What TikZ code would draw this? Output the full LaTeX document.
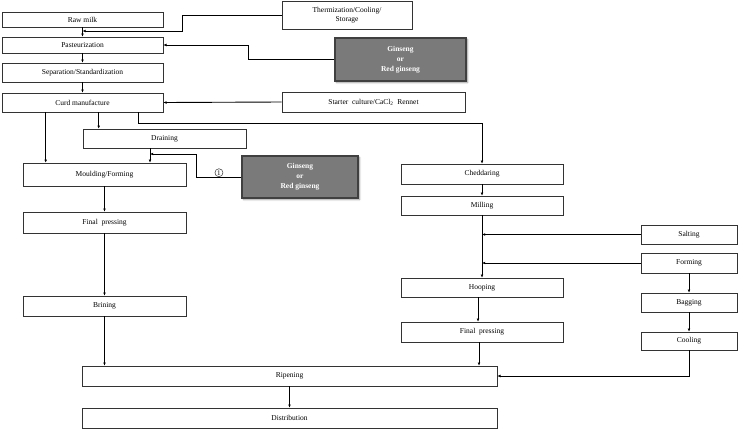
\documentclass[tikz,border=0pt]{standalone}
\usepackage{fontspec}
\setmainfont{Liberation Serif}
\usetikzlibrary{arrows.meta,shadows.blur}

\tikzset{
  stepbox/.style={draw=black!80, line width=0.6pt, rectangle, inner sep=0pt, font=\fontsize{7.5}{9}\selectfont, align=center},
  addbox/.style={draw=black!75, line width=1.1pt, fill={rgb,255:red,122;green,122;blue,122}, inner sep=0pt,
    text=white, font=\fontsize{7.5}{10}\selectfont\bfseries, align=center,
    blur shadow={shadow xshift=1.5pt, shadow yshift=-1.5pt, shadow blur steps=5}},
  flow/.style={line width=0.9pt, -{Latex[length=3.2pt,width=2.8pt]}},
}

\begin{document}
\begin{tikzpicture}[x=1pt, y=-1pt]
  \useasboundingbox (0,0) rectangle (738,429);

  % Main line
  \node[stepbox, minimum width=161pt, minimum height=15pt] (raw)     at (82.5,19.5)  {Raw milk};
  \node[stepbox, minimum width=161pt, minimum height=16pt] (past)    at (82.5,45)    {Pasteurization};
  \node[stepbox, minimum width=161pt, minimum height=19pt] (sep)     at (82.5,72.5)  {Separation/Standardization};
  \node[stepbox, minimum width=161pt, minimum height=19pt] (curd)    at (82.5,102.5) {Curd manufacture};
  \node[stepbox, minimum width=163pt, minimum height=19pt] (drain)   at (164.5,138.5) {Draining};
  \node[stepbox, minimum width=163pt, minimum height=23pt] (mould)   at (104.5,174.5) {Moulding/Forming};
  \node[stepbox, minimum width=163pt, minimum height=21pt] (pressL)  at (104.5,222.5) {Final\ \ pressing};
  \node[stepbox, minimum width=163pt, minimum height=20pt] (brine)   at (104.5,306)   {Brining};

  % Cheddar line
  \node[stepbox, minimum width=162pt, minimum height=20pt] (ched)    at (482,174)   {Cheddaring};
  \node[stepbox, minimum width=162pt, minimum height=19pt] (mill)    at (482,205.5) {Milling};
  \node[stepbox, minimum width=162pt, minimum height=19pt] (hoop)    at (482,287.5) {Hooping};
  \node[stepbox, minimum width=162pt, minimum height=20pt] (pressR)  at (482,332)   {Final\ \ pressing};
  \node[stepbox, minimum width=96pt,  minimum height=19pt] (salt)    at (689,234.5) {Salting};
  \node[stepbox, minimum width=96pt,  minimum height=20pt] (form)    at (689,263)   {Forming};
  \node[stepbox, minimum width=96pt,  minimum height=19pt] (bag)     at (689,302.5) {Bagging};
  \node[stepbox, minimum width=96pt,  minimum height=18pt] (cool)    at (689,341)   {Cooling};

  % Common end
  \node[stepbox, minimum width=415pt, minimum height=20pt] (ripen)   at (289.5,376) {Ripening};
  \node[stepbox, minimum width=415pt, minimum height=20pt] (dist)    at (289.5,418) {Distribution};

  % Inputs
  \node[stepbox, minimum width=130pt, minimum height=28pt] (therm)   at (347,15)    {Thermization/Cooling/\\Storage};
  \node[stepbox, minimum width=183pt, minimum height=20pt] (starter) at (373.5,102) {Starter\ \ culture/CaCl\textsubscript{2}\ \ Rennet};
  \node[addbox, minimum width=131pt, minimum height=43pt] (gin1)     at (400.5,59.5) {Ginseng\\or\\Red ginseng};
  \node[addbox, minimum width=116pt, minimum height=42pt] (gin2)     at (300,177)    {Ginseng\\or\\Red ginseng};

  % Junctions
  \coordinate (j1) at (82.5,31);
  \coordinate (j2) at (150,154);

  % Connections
  \draw[flow] (raw) -- (past);
  \draw[flow] (past) -- (sep);
  \draw[flow] (sep) -- (curd);
  \draw[flow] (therm.west) -- ++(-99,0) |- (j1);
  \draw[flow] (gin1.west) -- ++(-86,0) |- (past.east);
  \draw[flow] (starter.west) -- (curd.east);

  \draw[flow] ([xshift=44pt]curd.south west) -- ([xshift=23pt]mould.north west);
  \draw[flow] ([xshift=97pt]curd.south west) -- ([xshift=16pt]drain.north west);
  \draw[flow] ([xshift=137pt]curd.south west) -- ++(0,11) -| (ched.north);
  \draw[flow] (drain.south -| j2) -- (mould.north -| j2);
  \draw[flow] (gin2.west) -- ++(-45,0)
    node[pos=0.5, above=0pt, circle, draw=black!80, line width=0.5pt, inner sep=0.8pt, font=\fontsize{7}{7}\selectfont] (mark) {1}
    |- (j2);

  \draw[flow] (mould) -- (pressL);
  \draw[flow] (pressL) -- (brine);
  \draw[flow] (brine.south) -- (brine.south |- ripen.north);

  \draw[flow] (ched) -- (mill);
  \draw[flow] (mill) -- (hoop);
  \draw[flow] (salt.west) -- (salt.west -| mill.south);
  \draw[flow] (form.west) -- (form.west -| mill.south);
  \draw[flow] (form) -- (bag);
  \draw[flow] (bag) -- (cool);
  \draw[flow] ([xshift=-4pt]hoop.south) -- ([xshift=-4pt]pressR.north);
  \draw[flow] ([xshift=-3pt]pressR.south) -- ([xshift=-3pt]pressR.south |- ripen.north);
  \draw[flow] (cool.south) |- (ripen.east);

  \draw[flow] (ripen) -- (dist);
\end{tikzpicture}
\end{document}
